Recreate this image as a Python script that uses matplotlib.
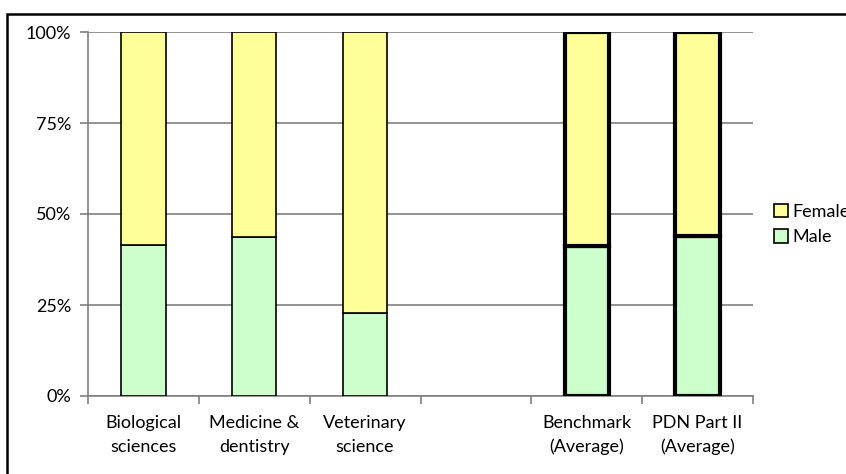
import numpy as np
import matplotlib.pyplot as plt
from matplotlib.patches import Patch, Rectangle
from matplotlib.ticker import FixedLocator, PercentFormatter

categories = ["Biological\nsciences", "Medicine &\ndentistry", "Veterinary\nscience",
              "", "Benchmark\n(Average)", "PDN Part II\n(Average)"]
male = [41.4, 43.8, 22.8, np.nan, 41.3, 44.0]
female = [58.6, 56.2, 77.2, np.nan, 58.7, 56.0]
edge_widths = [1.2, 1.2, 1.2, 1.2, 3.0, 3.0]

plt.rcParams['font.family'] = ['Lato', 'DejaVu Sans']

fig = plt.figure(figsize=(8.46, 4.74), dpi=100)
ax = fig.add_axes([88 / 846, 78 / 474, 665 / 846, 364 / 474])

x = np.arange(len(categories))
ax.bar(x, male, width=0.4, color="#CCFFCC", edgecolor="black",
       linewidth=edge_widths, zorder=3)
ax.bar(x, female, width=0.4, bottom=male, color="#FFFF99", edgecolor="black",
       linewidth=edge_widths, zorder=3)

ax.set_xlim(-0.5, len(categories) - 0.5)
ax.set_ylim(0, 100)
ax.set_yticks([0, 25, 50, 75, 100])
ax.yaxis.set_major_formatter(PercentFormatter(decimals=0))
ax.yaxis.grid(True, color="#808080", linewidth=1.2, zorder=0)

# category boundaries get the tick marks, the labels sit between them
ax.xaxis.set_major_locator(FixedLocator(np.arange(-0.5, len(categories), 1.0)))
ax.xaxis.set_minor_locator(FixedLocator(x))
ax.set_xticklabels([""] * (len(categories) + 1))
ax.set_xticklabels(categories, minor=True, linespacing=1.55)
ax.tick_params(axis="x", which="major", length=6, color="#808080", width=1.2)
ax.tick_params(axis="x", which="minor", length=0, pad=14, labelsize=13)
ax.tick_params(axis="y", length=6, color="#808080", width=1.2, pad=6, labelsize=13)

for side in ("top", "right"):
    ax.spines[side].set_visible(False)
for side in ("left", "bottom"):
    ax.spines[side].set_color("#808080")
    ax.spines[side].set_linewidth(1.2)

handles = [Patch(facecolor="#FFFF99", edgecolor="black", linewidth=1.2, label="Female"),
           Patch(facecolor="#CCFFCC", edgecolor="black", linewidth=1.2, label="Male")]
fig.legend(handles=handles, loc="center left", bbox_to_anchor=(774 / 846, 0.526),
           frameon=False, handlelength=0.75, handleheight=0.75, handletextpad=0.25,
           labelspacing=0.5, fontsize=13, borderaxespad=0, borderpad=0)

# outer chart frame, running past the right and bottom edges
fig.patches.append(Rectangle((7 / 846, -0.1), 1.1, 1.1 - 14 / 474,
                             transform=fig.transFigure, fill=False,
                             edgecolor="black", linewidth=1.8, clip_on=False))

fig.savefig("out.png", dpi=100)
